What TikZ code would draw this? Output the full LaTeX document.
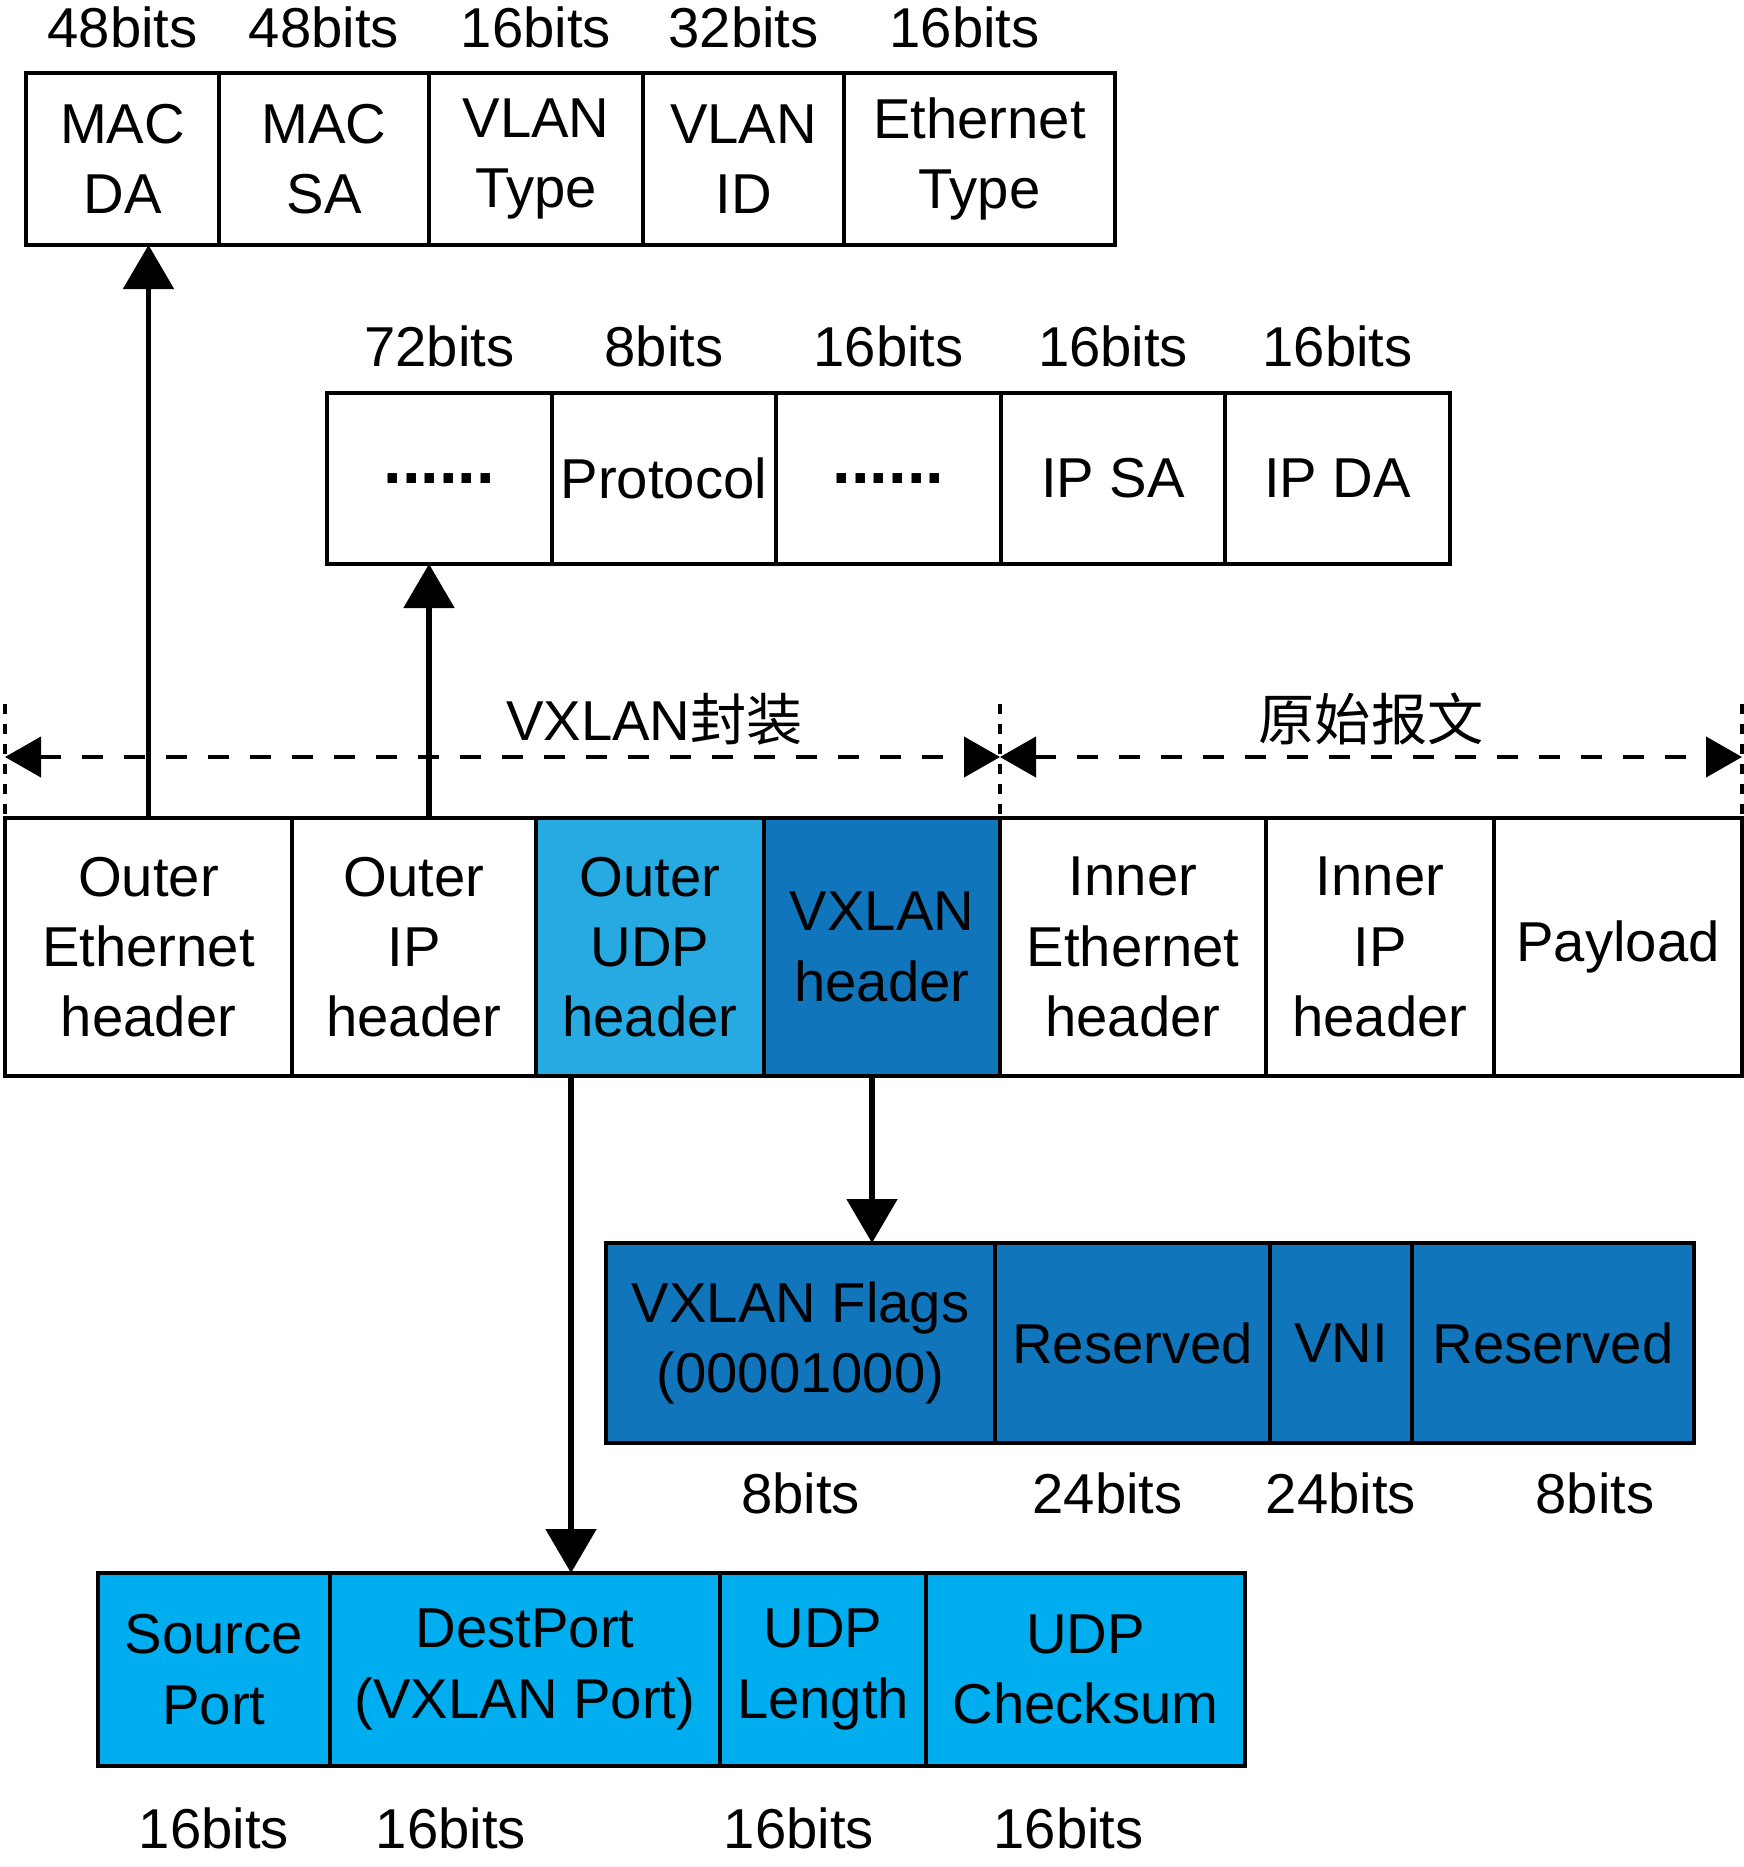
\documentclass[tikz,border=0pt]{standalone}
\usepackage{fontspec}
\setmainfont{Liberation Sans}
\newfontfamily\cjk{Noto Sans CJK SC}
\usetikzlibrary{arrows.meta,positioning,calc}
\definecolor{UdpCyan}{HTML}{00AEEF}
\definecolor{VxBlue}{HTML}{1175BC}
\definecolor{OuterUdp}{HTML}{27A9E1}
\newcommand{\fielddots}{{\fontsize{19}{20}\selectfont\textbf{......}}}

\begin{document}
\begin{tikzpicture}[
  cell/.style={draw,line width=1.1pt,outer sep=0pt,inner sep=1pt,align=center,
               font=\fontsize{16}{20}\selectfont},
  toprow/.style={cell,minimum height=1.72cm},
  iprow/.style={cell,minimum height=1.71cm,minimum width=2.246cm},
  mainrow/.style={cell,minimum height=2.58cm},
  vxrow/.style={cell,minimum height=2.00cm,fill=VxBlue},
  udprow/.style={cell,minimum height=1.93cm,fill=UdpCyan},
  bits/.style={inner sep=0pt,font=\fontsize{16}{20}\selectfont},
  arr/.style={-{Triangle[length=4.4mm,width=5mm]},line width=1.5pt},
  dim/.style={{Triangle[length=3.6mm,width=4mm]}-{Triangle[length=3.6mm,width=4mm]},
              line width=1.2pt,dash pattern=on 2.1mm off 2.1mm},
  tick/.style={line width=1.4pt,dash pattern=on 1mm off 1mm}
]
\useasboundingbox (0,0) rectangle (17.44,-18.67);

% outer ethernet header fields
\node[toprow,anchor=north west,minimum width=1.93cm] (macda) at (0.26,-0.73) {MAC\\DA};
\node[toprow,right=0pt of macda,minimum width=2.10cm] (macsa) {MAC\\SA};
\node[toprow,right=0pt of macsa,minimum width=2.14cm] (vtype) {VLAN\\Type};
\node[toprow,right=0pt of vtype,minimum width=2.01cm] (vid) {VLAN\\ID};
\node[toprow,right=0pt of vid,minimum width=2.71cm] (etype) {Ethernet\\Type};
\node[bits,above=2.4mm of macda] {48bits};
\node[bits,above=2.4mm of macsa] {48bits};
\node[bits,above=2.4mm of vtype] {16bits};
\node[bits,above=2.4mm of vid] {32bits};
\node[bits,above=2.4mm of etype,xshift=-1.5mm] {16bits};

% outer ip header fields
\node[iprow,anchor=north west] (ipa) at (3.27,-3.93) {\fielddots};
\node[iprow,right=0pt of ipa] (proto) {Protocol};
\node[iprow,right=0pt of proto] (ipb) {\fielddots};
\node[iprow,right=0pt of ipb] (ipsa) {IP SA};
\node[iprow,right=0pt of ipsa] (ipda) {IP DA};
\node[bits,above=2.5mm of ipa] {72bits};
\node[bits,above=2.5mm of proto] {8bits};
\node[bits,above=2.5mm of ipb] {16bits};
\node[bits,above=2.5mm of ipsa] {16bits};
\node[bits,above=2.5mm of ipda] {16bits};

% vxlan packet
\node[mainrow,anchor=north west,minimum width=2.87cm] (oeth) at (0.05,-8.18) {Outer\\Ethernet\\header};
\node[mainrow,right=0pt of oeth,minimum width=2.44cm] (oip) {Outer\\IP\\header};
\node[mainrow,right=0pt of oip,minimum width=2.28cm,fill=OuterUdp] (oudp) {Outer\\UDP\\header};
\node[mainrow,right=0pt of oudp,minimum width=2.36cm,fill=VxBlue] (vxh) {VXLAN\\header};
\node[mainrow,right=0pt of vxh,minimum width=2.66cm] (ieth) {Inner\\Ethernet\\header};
\node[mainrow,right=0pt of ieth,minimum width=2.28cm] (iip) {Inner\\IP\\header};
\node[mainrow,right=0pt of iip,minimum width=2.48cm] (pay) {Payload};

\coordinate (dimL) at ($(oeth.north west)+(0,0.61)$);
\coordinate (dimM) at ($(vxh.north east)+(0,0.61)$);
\coordinate (dimR) at ($(pay.north east)+(0,0.61)$);
\draw[tick] (oeth.north west) ++(0,0.04) -- ++(0,1.11);
\draw[tick] (vxh.north east) ++(0,0.04) -- ++(0,1.11);
\draw[tick] (pay.north east) ++(0,0.04) -- ++(0,1.11);
\draw[dim] (dimL) -- (dimM);
\draw[dim] (dimM) -- (dimR);
\node[bits,anchor=base] (encap) at ($(dimL)!0.5!(dimM)+(1.52,0.17)$) {VXLAN{\cjk 封装}};
\node[bits,anchor=base] (orig) at ($(dimM)!0.5!(dimR)+(0,0.17)$) {{\cjk 原始报文}};

% vxlan header fields
\node[vxrow,anchor=north west,minimum width=3.89cm] (vflags) at (6.06,-12.43) {VXLAN Flags\\(00001000)};
\node[vxrow,right=0pt of vflags,minimum width=2.75cm] (vres1) {Reserved};
\node[vxrow,right=0pt of vres1,minimum width=1.42cm] (vni) {VNI};
\node[vxrow,right=0pt of vni,minimum width=2.82cm] (vres2) {Reserved};
\node[bits,below=2.9mm of vflags] {8bits};
\node[bits,below=2.9mm of vres1,xshift=-2.5mm] {24bits};
\node[bits,below=2.9mm of vni] {24bits};
\node[bits,below=2.9mm of vres2,xshift=4.2mm] {8bits};

% outer udp header fields
\node[udprow,anchor=north west,minimum width=2.32cm] (sport) at (0.98,-15.73) {Source\\Port};
\node[udprow,right=0pt of sport,minimum width=3.90cm] (dport) {DestPort\\(VXLAN Port)};
\node[udprow,right=0pt of dport,minimum width=2.06cm] (ulen) {UDP\\Length};
\node[udprow,right=0pt of ulen,minimum width=3.19cm] (ucsum) {UDP\\Checksum};
\node[bits,below=4.1mm of sport] {16bits};
\node[bits,below=4.1mm of dport,xshift=-7.4mm] {16bits};
\node[bits,below=4.1mm of ulen,xshift=-2.4mm] {16bits};
\node[bits,below=4.1mm of ucsum,xshift=-1.7mm] {16bits};

\draw[arr] (oeth.north) -- (oeth.north |- macda.south);
\draw[arr] ([xshift=1.5mm]oip.north) -- ([xshift=1.5mm]oip.north |- ipa.south);
\draw[arr] ([xshift=-7.9mm]oudp.south) -- ([xshift=-7.9mm]oudp.south |- dport.north);
\draw[arr] ([xshift=-1mm]vxh.south) -- ([xshift=-1mm]vxh.south |- vflags.north);
\end{tikzpicture}
\end{document}
